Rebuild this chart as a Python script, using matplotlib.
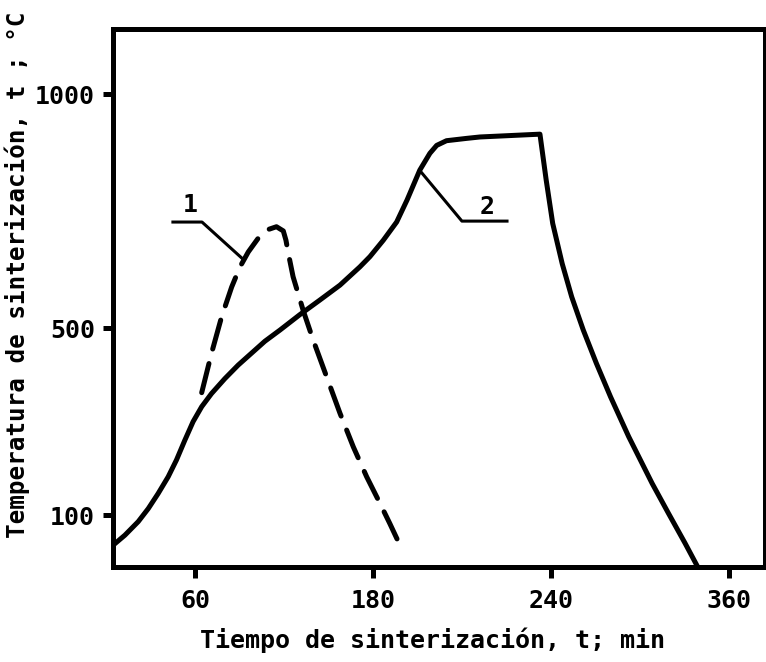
"""Sintering temperature versus time for two firing schedules."""

import matplotlib.pyplot as plt

# Curve 1 (dashed): fast firing schedule
time_1 = [62.3, 65.6, 69.0, 72.4, 75.2, 78.0, 81.3, 84.7, 87.5, 89.8, 90.7,
          91.5, 93.1, 96.5, 99.9, 104.4, 108.9, 113.4, 117.9, 122.4, 125.7, 129.1]
temp_1 = [362, 446, 524, 588, 631, 663, 692, 711, 717, 708, 688,
          660, 610, 538, 474, 396, 318, 246, 182, 125, 82, 36]

# Curve 2 (solid): slow firing schedule with soak
time_2 = [32.5, 36.4, 40.9, 44.3, 47.6, 51.0, 53.8, 56.6, 59.4, 62.3,
          65.6, 70.1, 74.6, 83.6, 88.7, 95.4, 102.1, 108.9, 115.6, 119.0,
          123.5, 128.0, 131.5, 135.8, 139.2, 141.5, 144.8, 151.6, 156.1,
          176.3, 178.4, 180.6, 183.8, 187.0, 190.9, 195.3, 200.1, 206.2,
          214.1, 219.6, 225.2, 229.4]
temp_2 = [36, 57, 86, 114, 146, 182, 218, 260, 300, 332,
          360, 392, 421, 472, 496, 529, 560, 592, 631, 653,
          688, 727, 774, 838, 874, 891, 901, 906, 909,
          915, 817, 724, 638, 567, 496, 425, 353, 268,
          168, 104, 40, -10]

xtick_pos = [60, 120, 180, 240]
xtick_labels = ["60", "180", "240", "360"]
ytick_pos = [100, 500, 1000]
ytick_labels = ["100", "500", "1000"]

FONT = dict(family="DejaVu Sans Mono", fontweight="bold", fontsize=18)
LW = 3.6

fig = plt.figure(figsize=(7.66, 6.62), dpi=100)
ax = fig.add_axes([0.1475, 0.1435, 0.851, 0.8127])

ax.plot(time_2, temp_2, color="black", linewidth=LW,
        solid_joinstyle="round", solid_capstyle="round")
ax.plot(time_1, temp_1, color="black", linewidth=LW,
        linestyle=(0, (6.0, 3.0)), dash_capstyle="round")

# curve labels with leader lines
ax.plot([52.6, 62.4, 75.8], [727, 727, 650], color="black", linewidth=2.2)
ax.text(58.3, 763, "1", ha="center", va="center", **FONT)
ax.plot([136.5, 150.0, 165.2], [832, 729, 729], color="black", linewidth=2.2)
ax.text(158.4, 759, "2", ha="center", va="center", **FONT)

ax.set_xlim(32.4, 252.1)
ax.set_ylim(-11, 1140)

ax.set_xticks(xtick_pos)
ax.set_xticklabels(xtick_labels, **FONT)
ax.set_yticks(ytick_pos)
ax.set_yticklabels(ytick_labels, **FONT)
ax.tick_params(axis="both", direction="out", width=LW, color="black")
ax.tick_params(axis="x", length=8, pad=8)
ax.tick_params(axis="y", length=7, pad=6)

for spine in ax.spines.values():
    spine.set_linewidth(LW)
    spine.set_color("black")

fig.text(0.564, 0.033, "Tiempo de sinterización, t; min",
         ha="center", va="center", **FONT)
fig.text(0.022, 0.585, "Temperatura de sinterización, t ; °C",
         ha="center", va="center", rotation=90,
         family="DejaVu Sans Mono", fontweight="bold", fontsize=17.5)

fig.savefig("out.png", dpi=100)
